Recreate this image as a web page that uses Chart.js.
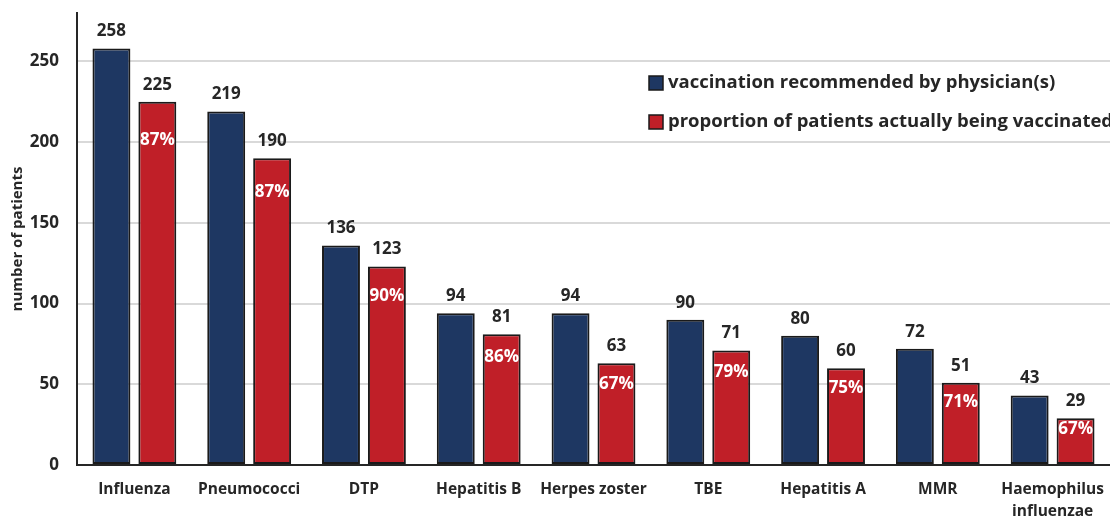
<!DOCTYPE html>
<html>
<head>
<meta charset="utf-8">
<script src="https://cdn.jsdelivr.net/npm/chart.js@4"></script>
<style>
html,body{margin:0;padding:0;background:#fff;}
#wrap{width:1110px;height:518px;position:relative;overflow:hidden;}
</style>
</head>
<body>
<div id="wrap"><canvas id="c" width="1110" height="518"></canvas></div>
<script>
const categories = ['Influenza','Pneumococci','DTP','Hepatitis B','Herpes zoster','TBE','Hepatitis A','MMR',['Haemophilus','influenzae']];
const recommended = [258,219,136,94,94,90,80,72,43];
const vaccinated = [225,190,123,81,63,71,60,51,29];
const percentVaccinated = [87,87,90,86,67,79,75,71,67];
const yTicks = [0,50,100,150,200,250];
const seriesLabels = ['vaccination recommended by physician(s)','proportion of patients actually being vaccinated'];

const FONT = '"Open Sans", sans-serif';
const TXT = '#262626';

const labelPlugin = {
  id:'labels',
  afterDatasetsDraw(chart){
    const ctx = chart.ctx;
    ctx.save();
    ctx.textAlign='center';
    ctx.textBaseline='middle';
    chart.data.datasets.forEach((ds,di)=>{
      const meta = chart.getDatasetMeta(di);
      meta.data.forEach((bar,i)=>{
        ctx.font = 'bold 17px '+FONT;
        ctx.fillStyle = TXT;
        ctx.fillText(String(ds.data[i]), bar.x, bar.y-17);
        if(di===1){
          ctx.fillStyle='#ffffff';
          const off = 7 + 0.14*ds.data[i] + (ds.data[i]>50 && ds.data[i]<150 ? 5 : 0);
          ctx.fillText(percentVaccinated[i]+'%', bar.x, bar.y+off);
        }
      });
    });
    // legend
    const lx = 649, ly = [83,122];
    ctx.textAlign='left';
    chart.data.datasets.forEach((ds,di)=>{
      ctx.fillStyle = ds.backgroundColor;
      ctx.strokeStyle = '#1a1a1a';
      ctx.lineWidth = 1.5;
      ctx.fillRect(lx, ly[di]-7, 14, 14);
      ctx.strokeRect(lx, ly[di]-7, 14, 14);
      ctx.fillStyle = TXT;
      ctx.font = 'bold 18.5px '+FONT;
      ctx.fillText(ds.label, lx+19, ly[di]);
    });
    ctx.restore();
  }
};

new Chart(document.getElementById('c'),{
  type:'bar',
  data:{
    labels:categories,
    datasets:[
      {label:seriesLabels[0],data:recommended,backgroundColor:'#1e3762',borderColor:'#1a1a1a',borderWidth:2,borderSkipped:false,categoryPercentage:0.80,barPercentage:0.826},
      {label:seriesLabels[1],data:vaccinated,backgroundColor:'#c01f28',borderColor:'#1a1a1a',borderWidth:2,borderSkipped:false,categoryPercentage:0.80,barPercentage:0.826}
    ]
  },
  options:{
    responsive:false,
    animation:false,
    layout:{padding:{top:13,right:0,left:0,bottom:0}},
    plugins:{legend:{display:false},tooltip:{enabled:false}},
    scales:{
      x:{
        grid:{display:false},
        border:{color:TXT,width:2},
        afterFit(s){ s.height = 53; s.paddingLeft = 0; s.paddingRight = 0; },
        ticks:{color:TXT,font:{family:FONT,size:15.5,weight:'bold',lineHeight:1.4},padding:6,maxRotation:0,autoSkip:false}
      },
      y:{
        min:0,max:280,
        afterBuildTicks(s){ s.ticks = yTicks.map(v=>({value:v})); },
        afterFit(s){ s.width = 77; s.paddingTop = 0; s.paddingBottom = 0; },
        grid:{color:'#d9d9d9',lineWidth:2,drawTicks:false},
        border:{color:TXT,width:2},
        ticks:{color:TXT,font:{family:FONT,size:17,weight:'bold'},padding:18},
        title:{display:true,text:'number of patients',color:TXT,font:{family:FONT,size:15,weight:'bold'},padding:{top:9,bottom:0}}
      }
    }
  },
  plugins:[labelPlugin]
});
</script>
</body>
</html>
